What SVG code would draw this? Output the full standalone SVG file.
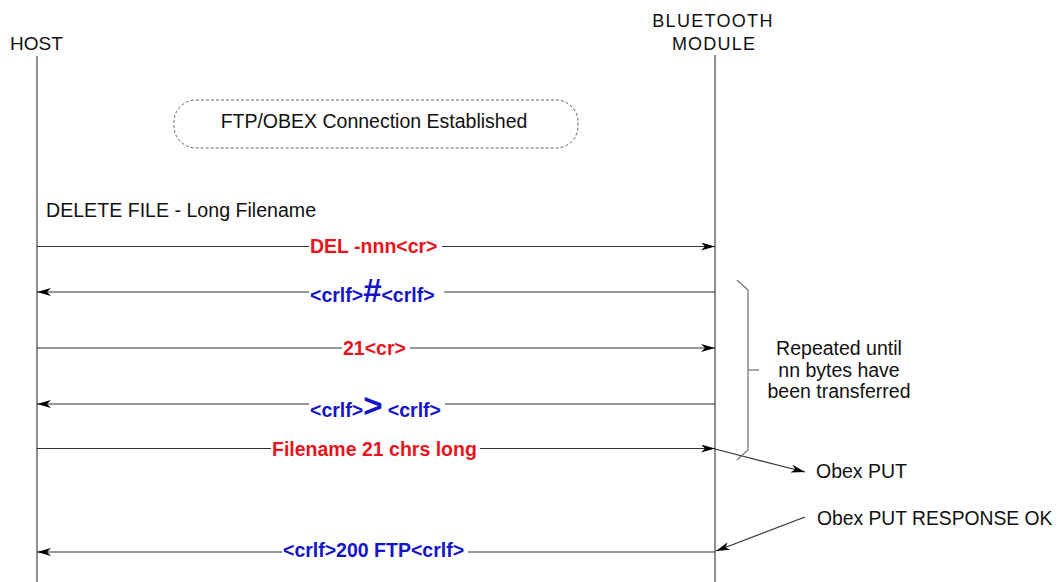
<svg xmlns="http://www.w3.org/2000/svg" width="1061" height="582" viewBox="0 0 1061 582">
<defs>
<marker id="ah" viewBox="0 0 14 8" refX="14" refY="4" markerWidth="14" markerHeight="8" markerUnits="userSpaceOnUse" orient="auto">
<path d="M0,0 L14,4 L0,8 L4,4 Z" fill="#000"/>
</marker>
</defs>
<style>
text{font-family:"Liberation Sans",Arial,sans-serif}
.lbl{font-size:19.5px;fill:#111}
.life{stroke:#444;stroke-width:1.2;fill:none}
.msg{stroke:#333;stroke-width:1.2;fill:none;marker-end:url(#ah)}
.red{font-size:19.5px;font-weight:bold;fill:#e8141c}
.blue{font-size:19.5px;font-weight:bold;fill:#1414c8}
.bg{fill:#fff}
</style>
<rect width="1061" height="582" fill="#fff"/>
<g id="host">
<text class="lbl" x="10" y="50" style="font-size:19px">HOST</text>
<line class="life" x1="37" y1="56" x2="37" y2="582"/>
</g>
<g id="module">
<text class="lbl" x="713" y="27" text-anchor="middle" style="font-size:18px;letter-spacing:1.3px">BLUETOOTH</text>
<text class="lbl" x="714" y="50" text-anchor="middle" style="font-size:18px;letter-spacing:1.2px">MODULE</text>
<line class="life" x1="715" y1="55" x2="715" y2="582" stroke="#222"/>
</g>
<g id="connection">
<rect x="174" y="100" width="404" height="48" rx="22" ry="22" fill="none" stroke="#666" stroke-width="1" stroke-dasharray="3,2"/>
<text class="lbl" x="374" y="128" text-anchor="middle">FTP/OBEX Connection Established</text>
</g>
<g id="title">
<text class="lbl" x="46" y="217" style="font-size:19.6px">DELETE FILE - Long Filename</text>
</g>
<g id="connectors">
<line class="msg" x1="37" y1="246.5" x2="715" y2="246.5"/>
<line class="msg" x1="715" y1="292" x2="37" y2="292"/>
<line class="msg" x1="37" y1="348" x2="715" y2="348"/>
<line class="msg" x1="715" y1="404" x2="37" y2="404"/>
<line class="msg" x1="37" y1="448.5" x2="715" y2="448.5"/>
<line class="msg" x1="715" y1="552" x2="37" y2="552"/>
<line class="msg" x1="715" y1="449" x2="805" y2="472"/>
<line class="msg" x1="805" y1="517" x2="716" y2="551"/>
<polyline points="737,280 748,290 748,450 737,460" fill="none" stroke="#777" stroke-width="1.3"/>
<line x1="748" y1="370" x2="759" y2="370" stroke="#777" stroke-width="1.3"/>
</g>
<g id="m1">
<rect class="bg" x="309" y="238" width="133" height="18"/>
<text class="red" x="310" y="253">DEL -nnn&lt;cr&gt;</text>
</g>
<g id="m2">
<rect class="bg" x="309" y="276" width="135" height="30"/>
<text class="blue" x="310" y="302">&lt;crlf&gt;<tspan font-size="33">#</tspan>&lt;crlf&gt;</text>
</g>
<g id="m3">
<rect class="bg" x="342" y="339" width="68" height="18"/>
<text class="red" x="343" y="355">21&lt;cr&gt;</text>
</g>
<g id="m4">
<rect class="bg" x="309" y="390" width="136" height="31"/>
<text class="blue" x="310" y="417">&lt;crlf&gt;<tspan font-size="33">&gt;</tspan> &lt;crlf&gt;</text>
</g>
<g id="m5">
<rect class="bg" x="271" y="440" width="209" height="21"/>
<text class="red" x="272" y="456">Filename 21 chrs long</text>
</g>
<g id="m6">
<rect class="bg" x="282" y="543" width="186" height="18"/>
<text class="blue" x="283" y="557">&lt;crlf&gt;200 FTP&lt;crlf&gt;</text>
</g>
<g id="repeat-note">
<text class="lbl" x="839" y="355" text-anchor="middle">Repeated until</text>
<text class="lbl" x="839" y="377" text-anchor="middle">nn bytes have</text>
<text class="lbl" x="839" y="398" text-anchor="middle">been transferred</text>
</g>
<g id="obex-put">
<text class="lbl" x="816" y="478">Obex PUT</text>
</g>
<g id="obex-resp">
<text class="lbl" x="817" y="525" style="font-size:19.3px">Obex PUT RESPONSE OK</text>
</g>
</svg>
